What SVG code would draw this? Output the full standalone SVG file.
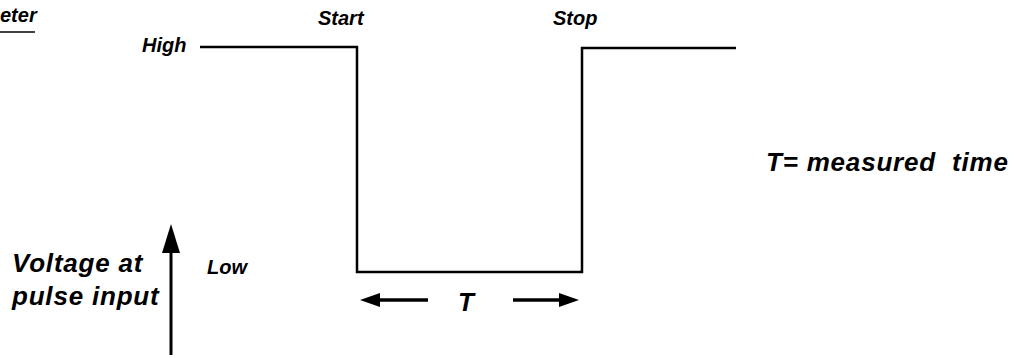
<svg xmlns="http://www.w3.org/2000/svg" width="1020" height="358" viewBox="0 0 1020 358">
<style>
.t{font-family:"Liberation Sans",Arial,sans-serif;font-weight:bold;font-style:italic;fill:#000}
.s{font-size:20px}
.b{font-size:26px;letter-spacing:0.8px}
.ln{stroke:#000;stroke-width:2.5;fill:none}
</style>
<rect width="1020" height="358" fill="#fff"/>
<g id="title">
<text class="t s" x="0" y="22">eter</text>
<line x1="0" y1="32" x2="35" y2="32" stroke="#000" stroke-width="1.5"/>
</g>
<g id="waveform">
<polyline class="ln" points="200,47 357,47 357,272 582,272 582,48 736,48"/>
</g>
<g id="labels">
<text class="t s" x="142" y="52">High</text>
<text class="t s" x="318" y="25">Start</text>
<text class="t s" x="553" y="25">Stop</text>
<text class="t s" x="207" y="274">Low</text>
<text class="t b" x="766" y="171" xml:space="preserve">T= measured  time</text>
<text class="t b" x="12" y="272">Voltage at</text>
<text class="t b" x="12" y="305">pulse input</text>
<text class="t b" x="458" y="311">T</text>
</g>
<g id="connectors">
<line x1="171" y1="355" x2="171" y2="250" stroke="#000" stroke-width="3"/>
<path d="M171,224 L180,253 L162,253 z" fill="#000"/>
<line x1="428" y1="300" x2="378" y2="300" stroke="#000" stroke-width="3.5"/>
<path d="M360,300 L380,293 L380,307 z" fill="#000"/>
<line x1="513" y1="300" x2="560" y2="300" stroke="#000" stroke-width="3.5"/>
<path d="M579,300 L559,293 L559,307 z" fill="#000"/>
</g>
</svg>
